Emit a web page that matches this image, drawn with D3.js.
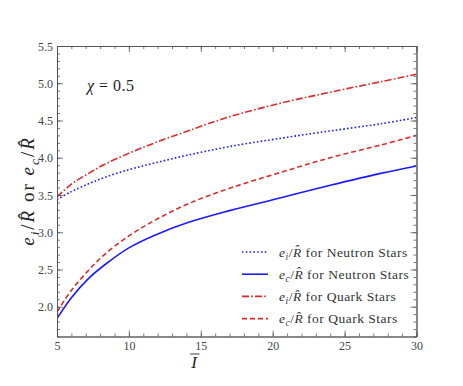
<!DOCTYPE html>
<html>
<head>
<meta charset="utf-8">
<script src="https://cdn.jsdelivr.net/npm/d3@7"></script>
<style>
  body { margin: 0; background: #fff; }
</style>
</head>
<body>
<div id="chart"></div>
<script>
'use strict';

// Ī values sampled along the curves
const inertia = [5, 6, 7.2, 8.3, 10, 11.8, 14.1, 17, 20.5, 24, 27.5, 30];
const eiNeutron = [3.44, 3.545, 3.65, 3.735, 3.84, 3.93, 4.035, 4.15, 4.26, 4.36, 4.455, 4.54];
const ecNeutron = [1.84, 2.12, 2.38, 2.56, 2.79, 2.96, 3.13, 3.29, 3.46, 3.63, 3.79, 3.89];
const eiQuark = [3.475, 3.645, 3.79, 3.91, 4.06, 4.2, 4.36, 4.55, 4.73, 4.88, 5.02, 5.12];
const ecQuark = [1.93, 2.22, 2.49, 2.70, 2.95, 3.16, 3.38, 3.59, 3.80, 4.0, 4.17, 4.30];

const xTicks = [5, 10, 15, 20, 25, 30];
const yTicks = [2.0, 2.5, 3.0, 3.5, 4.0, 4.5, 5.0, 5.5];

const blue = '#1a1aff';
const red = '#dc2b2b';
const serif = '"Liberation Serif", "Times New Roman", serif';

const series = [
    {name: 'for Neutron Stars', sub: 'i', values: eiNeutron, color: blue, dash: '1.6,2.2'},
    {name: 'for Neutron Stars', sub: 'c', values: ecNeutron, color: blue, dash: null},
    {name: 'for Quark Stars', sub: 'i', values: eiQuark, color: red, dash: '7,2.2,1.6,2.2'},
    {name: 'for Quark Stars', sub: 'c', values: ecQuark, color: red, dash: '5,3'},
];

const W = 463, H = 386;
const margin = {top: 46, right: 46.5, bottom: 49.5, left: 57};
const width = W - margin.left - margin.right;
const height = H - margin.top - margin.bottom;
const axisColor = '#555';

const svg = d3.select('#chart').append('svg')
    .attr('width', W)
    .attr('height', H);

const g = svg.append('g')
    .attr('transform', `translate(${margin.left}, ${margin.top})`);

const x = d3.scaleLinear().domain([5, 30]).range([0, width]);
const y = d3.scaleLinear().domain([1.6, 5.5]).range([height, 0]);

// curves
const line = d3.line()
    .x((d, i) => x(inertia[i]))
    .y((d) => y(d))
    .curve(d3.curveCatmullRom.alpha(0.5));

g.append('defs').append('clipPath').attr('id', 'clip')
    .append('rect').attr('width', width).attr('height', height);

for (const s of series) {
    g.append('path')
        .attr('clip-path', 'url(#clip)')
        .attr('d', line(s.values))
        .attr('fill', 'none')
        .attr('stroke', s.color)
        .attr('stroke-width', 1.6)
        .attr('stroke-dasharray', s.dash);
}

// axes with inward ticks on all sides
const minorX = d3.range(5, 31, 1);
const minorY = d3.range(1.6, 5.51, 0.1);

const addAxis = (axis, transform, ticks, size) => {
    const a = g.append('g')
        .attr('transform', transform)
        .call(axis.tickValues(ticks).tickSize(size).tickSizeOuter(0).tickFormat(''));
    a.select('.domain').attr('stroke', axisColor).attr('stroke-width', 0.9);
    a.selectAll('.tick line').attr('stroke', axisColor).attr('stroke-width', 0.8);
    return a;
};

// bottom
addAxis(d3.axisTop(x), `translate(0, ${height})`, minorX, 3);
const bx = addAxis(d3.axisTop(x), `translate(0, ${height})`, xTicks, 6);
bx.selectAll('.tick').append('text')
    .attr('y', 13)
    .attr('text-anchor', 'middle')
    .attr('fill', '#444')
    .style('font-family', serif)
    .style('font-size', '12px')
    .text((d) => d);
// top
addAxis(d3.axisBottom(x), 'translate(0, 0)', minorX, 3);
addAxis(d3.axisBottom(x), 'translate(0, 0)', xTicks, 6);
// left
addAxis(d3.axisRight(y), 'translate(0, 0)', minorY, 3);
const ly = addAxis(d3.axisRight(y), 'translate(0, 0)', yTicks, 6);
ly.selectAll('.tick').append('text')
    .attr('x', -4)
    .attr('dy', '0.35em')
    .attr('text-anchor', 'end')
    .attr('fill', '#444')
    .style('font-family', serif)
    .style('font-size', '12px')
    .text((d) => d3.format('.1f')(d));
// right
addAxis(d3.axisLeft(y), `translate(${width}, 0)`, minorY, 3);
addAxis(d3.axisLeft(y), `translate(${width}, 0)`, yTicks, 6);

// x axis label: I with bar
svg.append('text')
    .attr('x', 194)
    .attr('y', 368)
    .attr('text-anchor', 'middle')
    .attr('fill', '#222')
    .style('font-family', serif)
    .style('font-size', '17px')
    .style('font-style', 'italic')
    .text('I');
svg.append('line')
    .attr('x1', 190).attr('x2', 199.5)
    .attr('y1', 354).attr('y2', 354)
    .attr('stroke', '#222').attr('stroke-width', 0.9);

const addRatio = (parent, sub, size) => {
    parent.append('tspan').style('font-style', 'italic').text('e');
    parent.append('tspan').style('font-style', 'italic').style('font-size', (size * 0.7) + 'px')
        .attr('dy', size * 0.25).text(sub);
    parent.append('tspan').attr('dy', -size * 0.25).text('/');
    parent.append('tspan').style('font-style', 'italic').text('R\u0302');
};

// y axis label
const ylab = svg.append('text')
    .attr('transform', 'translate(34, 191) rotate(-90)')
    .attr('text-anchor', 'middle')
    .attr('fill', '#222')
    .style('font-family', serif)
    .style('font-size', '19px')
    .style('letter-spacing', '2px');
addRatio(ylab, 'i', 19);
ylab.append('tspan').text(' or ');
addRatio(ylab, 'c', 19);

// chi annotation
const chi = svg.append('text')
    .attr('x', 87)
    .attr('y', 91)
    .attr('fill', '#222')
    .style('font-family', serif)
    .style('font-size', '16px')
    .style('letter-spacing', '0.5px');
chi.append('tspan').style('font-style', 'italic').text('\u03c7');
chi.append('tspan').text(' = 0.5');

// legend
const legend = svg.append('g');
series.forEach((s, i) => {
    const ry = 252 + i * 22.2;
    legend.append('line')
        .attr('x1', 242).attr('x2', 268)
        .attr('y1', ry).attr('y2', ry)
        .attr('stroke', s.color)
        .attr('stroke-width', 1.6)
        .attr('stroke-dasharray', s.dash);
    const t = legend.append('text')
        .attr('x', 279)
        .attr('y', ry + 4.5)
        .attr('fill', '#333')
        .style('font-family', serif)
        .style('font-size', '13.5px')
        .style('letter-spacing', '0.5px');
    addRatio(t, s.sub, 13.5);
    t.append('tspan').text(' ' + s.name);
});
</script>
</body>
</html>
